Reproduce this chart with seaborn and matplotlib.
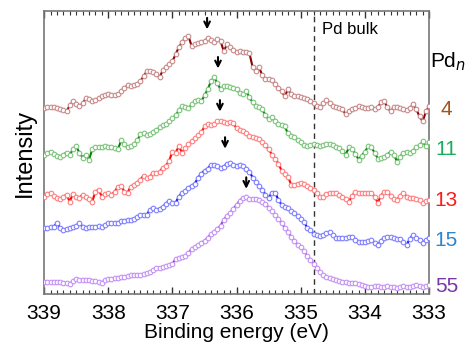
import numpy as np
import pandas as pd
import seaborn as sns
import matplotlib.pyplot as plt

# binding energy grid, 339 -> 333 eV in 0.05 eV steps (121 points)
energy = np.round(np.linspace(339, 333, 121), 2)

# stacked intensities (arb. units)
pd4 = [191, 192, 192, 192, 191, 190, 189, 188, 194, 198,
       195, 193, 196, 201, 200, 198, 199, 201, 203, 204,
       205, 204, 204, 205, 208, 211, 214, 213, 214, 215,
       218, 223, 228, 228, 227, 225, 222, 229, 232, 235,
       238, 245, 252, 257, 261, 263, 253, 255, 256, 257,
       258, 261, 259, 257, 260, 258, 248, 255, 252, 249,
       247, 248, 247, 247, 246, 232, 228, 232, 224, 220,
       220, 219, 215, 211, 208, 203, 210, 205, 203, 203,
       202, 201, 200, 198, 196, 193, 192, 196, 199, 196,
       193, 192, 191, 190, 185, 188, 190, 191, 193, 192,
       191, 191, 192, 190, 192, 197, 198, 192, 188, 192,
       192, 191, 190, 189, 191, 195, 190, 183, 178, 188,
       193]
pd11 = [145, 147, 148, 146, 144, 143, 145, 147, 145, 150,
        153, 147, 142, 145, 140, 150, 152, 152, 152, 153,
        152, 152, 151, 150, 159, 155, 152, 153, 155, 159,
        165, 166, 164, 165, 167, 169, 172, 174, 175, 178,
        181, 184, 189, 193, 192, 191, 195, 198, 199, 198,
        204, 210, 218, 222, 216, 210, 213, 213, 212, 211,
        210, 206, 205, 208, 202, 197, 193, 192, 190, 184,
        180, 182, 178, 175, 174, 173, 166, 163, 162, 159,
        157, 154, 153, 154, 155, 154, 153, 154, 155, 155,
        154, 152, 151, 149, 145, 152, 150, 146, 140, 144,
        148, 153, 152, 147, 141, 142, 143, 145, 148, 145,
        138, 143, 147, 148, 147, 149, 152, 154, 158, 153,
        157]
pd13 = [103, 106, 107, 104, 102, 101, 103, 105, 98, 106,
        103, 102, 105, 103, 101, 98, 108, 110, 103, 106,
        107, 105, 108, 113, 114, 108, 107, 113, 115, 117,
        120, 124, 122, 123, 127, 127, 128, 132, 134, 139,
        148, 147, 153, 147, 151, 155, 158, 161, 164, 167,
        173, 175, 174, 175, 178, 178, 177, 176, 177, 176,
        171, 169, 168, 166, 163, 162, 161, 160, 157, 154,
        150, 145, 141, 136, 129, 126, 123, 115, 115, 116,
        117, 116, 114, 112, 110, 107, 103, 103, 106, 107,
        107, 107, 105, 103, 101, 98, 104, 108, 107, 107,
        107, 107, 107, 103, 97, 104, 108, 108, 104, 101,
        100, 104, 107, 103, 102, 102, 101, 100, 97, 99,
        100]
pd15 = [72, 72, 73, 73, 77, 72, 70, 71, 72, 73,
        74, 77, 73, 72, 73, 73, 73, 74, 73, 75,
        77, 77, 77, 77, 79, 79, 80, 80, 81, 83,
        85, 85, 85, 90, 92, 90, 91, 93, 96, 99,
        97, 97, 103, 107, 109, 112, 114, 116, 122, 126,
        129, 131, 135, 135, 134, 132, 133, 136, 137, 135,
        134, 135, 134, 131, 128, 122, 118, 114, 110, 105,
        102, 107, 107, 100, 95, 93, 92, 89, 87, 84,
        81, 78, 72, 70, 66, 65, 64, 65, 67, 68,
        65, 62, 62, 62, 62, 63, 63, 60, 58, 58,
        58, 59, 60, 57, 55, 59, 62, 63, 63, 62,
        61, 61, 58, 55, 61, 65, 62, 60, 57, 60,
        62]
pd55 = [18, 18, 18, 18, 18, 18, 17, 17, 16, 19,
        21, 20, 20, 20, 20, 19, 19, 18, 17, 20,
        21, 21, 22, 22, 23, 23, 24, 25, 25, 25,
        25, 26, 27, 28, 30, 32, 32, 33, 34, 35,
        36, 41, 42, 43, 44, 47, 51, 53, 55, 57,
        59, 62, 66, 68, 71, 74, 80, 84, 87, 91,
        95, 99, 102, 103, 101, 101, 101, 100, 98, 96,
        92, 89, 85, 81, 77, 72, 68, 63, 59, 55,
        53, 49, 44, 40, 36, 32, 28, 25, 23, 22,
        21, 20, 19, 18, 18, 17, 17, 17, 16, 15,
        14, 13, 13, 14, 14, 13, 13, 14, 13, 13,
        12, 13, 14, 13, 13, 14, 15, 14, 13, 14,
        15]

sizes = ["4", "11", "13", "15", "55"]
series = [pd4, pd11, pd13, pd15, pd55]
peak_pos = [336.46, 336.29, 336.26, 336.18, 335.85]
peak_tip = [267, 228, 185, 148, 108]
label_y = [190, 150, 99, 59, 13]
bulk_pos = 334.8

line_colors = ["#8b0000", "#008000", "#ff0000", "#0000ff", "#8a2be2"]
marker_colors = ["#c88a8a", "#7cc47c", "#ff8080", "#8080ff", "#c493f5"]
label_colors = ["#a5521b", "#1aad5c", "#ff1a1a", "#2a86d0", "#7a35a8"]

sns.set_style("ticks")
plt.rcParams["font.family"] = ["Liberation Sans", "DejaVu Sans"]
plt.rcParams["text.color"] = "black"
plt.rcParams["axes.labelcolor"] = "black"
plt.rcParams["xtick.labelcolor"] = "black"

fig = plt.figure(figsize=(4.69, 3.47), dpi=100)
ax = fig.add_axes([0.094, 0.153, 0.821, 0.815])

for vals, lc, mc in zip(series, line_colors, marker_colors):
    df = pd.DataFrame({"E": energy, "I": vals})
    sns.lineplot(data=df, x="E", y="I", color=lc, lw=1.5, ax=ax)
    sns.scatterplot(data=df, x="E", y="I", marker="o", s=11,
                    facecolor="white", edgecolor=mc, linewidth=0.8, ax=ax, zorder=3)

for e, tip in zip(peak_pos, peak_tip):
    ax.annotate("", xy=(e, tip), xytext=(e, tip + 17),
                arrowprops=dict(arrowstyle="->", color="black", lw=1.5,
                                mutation_scale=10))

ax.axvline(bulk_pos, color="#333333", ls=(0, (4, 3)), lw=1)
ax.text(334.67, 270, "Pd bulk", fontsize=12, va="center", ha="left")

ax.text(1.05, 0.82, "Pd$_{n}$", transform=ax.transAxes, fontsize=15,
        ha="center", va="center")
for s, ly, c in zip(sizes, label_y, label_colors):
    ax.text(1.045, (ly - 6) / 282, s, transform=ax.transAxes, fontsize=15,
            color=c, ha="center", va="center")

ax.set_xlim(339, 333)
ax.set_ylim(6, 288)
ax.set_xticks([339, 338, 337, 336, 335, 334, 333])
ax.set_xticks(np.arange(333, 339.01, 0.1), minor=True)
ax.set_yticks([])
ax.tick_params(axis="x", which="both", direction="in", top=True, bottom=True,
               labelsize=15, pad=7, color="#333333")
ax.tick_params(axis="x", which="major", length=5, width=1)
ax.tick_params(axis="x", which="minor", length=3, width=0.8)
for sp in ax.spines.values():
    sp.set_color("#777777")
    sp.set_linewidth(1.2)
ax.set_xlabel("Binding energy (eV)", fontsize=15, labelpad=0)
ax.set_ylabel("Intensity", fontsize=17, labelpad=6)

fig.savefig("out.png", dpi=100)
